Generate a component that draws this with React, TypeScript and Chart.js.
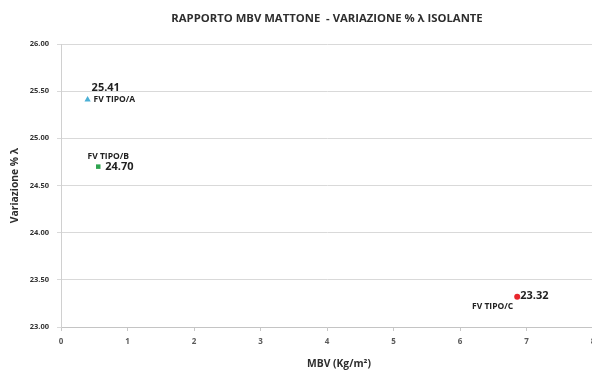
import React, { useEffect, useRef } from "react";
import { Chart, registerables } from "chart.js";

Chart.register(...registerables);

const seriesNames = ["FV TIPO/A", "FV TIPO/B", "FV TIPO/C"];
const mbvValues = [0.4, 0.56, 6.86];
const lambdaValues = [25.41, 24.7, 23.32];
const pointShapes = ["triangle", "rect", "circle"];
const pointColors = ["#4bb0d6", "#2ea44f", "#e8262c"];
const pointSizes = [3.6, 3.2, 3];

const chartTitle = "RAPPORTO MBV MATTONE  - VARIAZIONE % \u03bb ISOLANTE";
const xTitle = "MBV (Kg/m\u00b2)";
const yTitle = "Variazione % \u03bb";
const xMin = 0, xMax = 8, xStep = 1;
const yMin = 23, yMax = 26, yStep = 0.5;

const FONT = "'Open Sans', sans-serif";

const labelPlugin = {
  id: "customLabels",
  afterDatasetsDraw(chart: any) {
    const ctx = chart.ctx;
    const area = chart.chartArea;
    ctx.save();
    // Title
    ctx.fillStyle = "#2e2e2e";
    ctx.font = `bold 11.3px ${FONT}`;
    ctx.textAlign = "center";
    ctx.textBaseline = "middle";
    ctx.fillText(chartTitle, (area.left + area.right) / 2, 19);
    // X title
    ctx.font = `bold 10.3px ${FONT}`;
    ctx.fillText(xTitle, (area.left + area.right) / 2 + 12, 364);
    // Y title
    ctx.save();
    ctx.translate(15, (area.top + area.bottom) / 2);
    ctx.rotate(-Math.PI / 2);
    ctx.fillText(yTitle, 0, 0);
    ctx.restore();

    // point labels
    chart.data.datasets.forEach((ds: any, i: number) => {
      const meta = chart.getDatasetMeta(i);
      const el = meta.data[0];
      if (!el) return;
      const px = el.x, py = el.y;
      const val = lambdaValues[i].toFixed(2);
      const name = seriesNames[i];
      ctx.fillStyle = "#222222";
      ctx.textBaseline = "middle";
      if (i === 0) {
        ctx.font = `bold 11px ${FONT}`;
        ctx.textAlign = "left";
        ctx.fillText(val, px + 4, py - 12);
        ctx.font = `bold 8.5px ${FONT}`;
        ctx.fillText(name, px + 6, py);
      } else if (i === 1) {
        ctx.font = `bold 8.5px ${FONT}`;
        ctx.textAlign = "center";
        ctx.fillText(name, px + 10, py - 10);
        ctx.font = `bold 11px ${FONT}`;
        ctx.textAlign = "left";
        ctx.fillText(val, px + 7, py);
      } else {
        ctx.font = `bold 11px ${FONT}`;
        ctx.textAlign = "left";
        ctx.fillText(val, px + 3, py - 1);
        ctx.font = `bold 8.5px ${FONT}`;
        ctx.textAlign = "right";
        ctx.fillText(name, px - 4, py + 10);
      }
    });
    ctx.restore();
  },
};

export default function App() {
  const ref = useRef<HTMLCanvasElement | null>(null);
  useEffect(() => {
    if (!ref.current) return;
    const datasets = seriesNames.map((n, i) => ({
      label: n,
      data: [{ x: mbvValues[i], y: lambdaValues[i] }],
      pointStyle: pointShapes[i] as any,
      pointRadius: pointSizes[i],
      pointBackgroundColor: pointColors[i],
      pointBorderColor: pointColors[i],
      pointBorderWidth: 0,
      showLine: false,
    }));
    const chart = new Chart(ref.current, {
      type: "scatter",
      data: { datasets },
      options: {
        animation: false,
        responsive: false,
        devicePixelRatio: 1,
        layout: { padding: { top: 44, right: 27, left: 0, bottom: 0 } },
        plugins: {
          legend: { display: false },
          tooltip: { enabled: false },
          title: { display: false },
        },
        scales: {
          x: {
            type: "linear",
            min: xMin,
            max: xMax,
            afterFit: (s: any) => { s.height = 47; },
            ticks: {
              stepSize: xStep,
              color: "#5a5a5a",
              font: { family: FONT, size: 8, weight: "bold" },
              padding: 6,
              callback: (v: any) => String(v),
            },
            grid: {
              drawOnChartArea: false,
              drawTicks: true,
              tickLength: 4,
              color: "#c8c8c8",
            },
            border: { color: "#c4c4c4", width: 1 },
          },
          y: {
            type: "linear",
            min: yMin,
            max: yMax,
            afterFit: (s: any) => { s.width = 61; },
            ticks: {
              stepSize: yStep,
              color: "#333333",
              font: { family: FONT, size: 7.5, weight: "bold" },
              padding: 8,
              callback: (v: any) => Number(v).toFixed(2),
            },
            grid: {
              color: "#d9d9d9",
              lineWidth: 1,
              drawTicks: true,
              tickLength: 4,
            },
            border: { color: "#d0d0d0", width: 1 },
          },
        },
      },
      plugins: [labelPlugin],
    });
    return () => chart.destroy();
  }, []);
  return (
    <div
      style={{
        position: "fixed",
        left: 0,
        top: 0,
        width: 592,
        height: 374,
        overflow: "hidden",
        background: "#ffffff",
      }}
    >
      <canvas ref={ref} width={620} height={374} style={{ width: 620, height: 374, display: "block" }} />
    </div>
  );
}
